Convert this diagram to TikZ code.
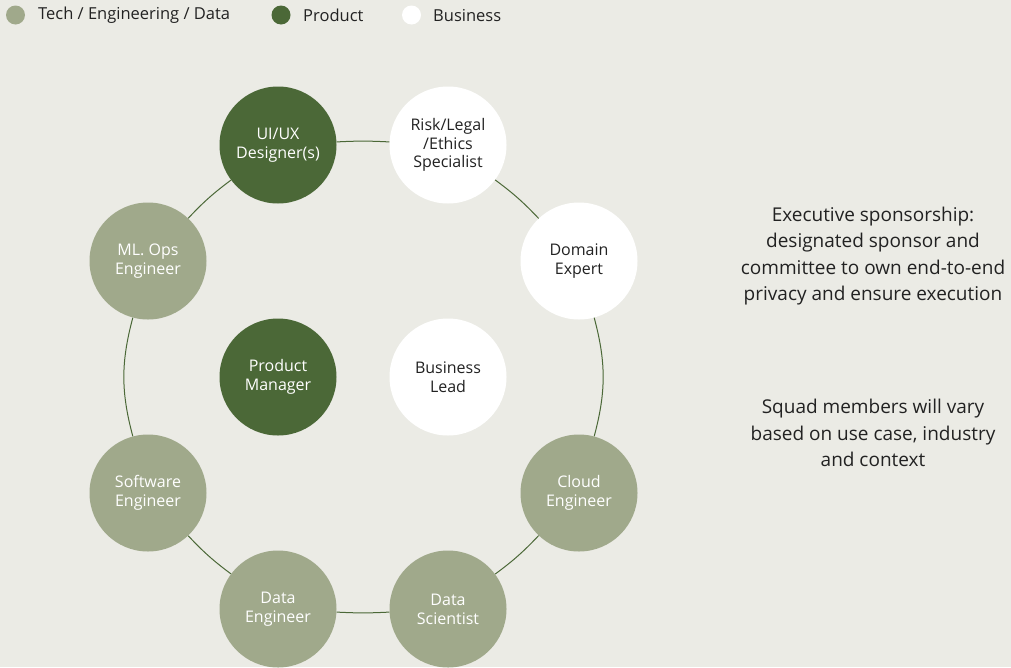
\documentclass[tikz,border=0pt]{standalone}
\usepackage{fontspec}
\setmainfont{Open Sans}
\definecolor{bg}{HTML}{EBEBE5}
\definecolor{tech}{HTML}{A0A98B}
\definecolor{prod}{HTML}{4B6837}
\definecolor{txt}{HTML}{222222}
\begin{document}
\begin{tikzpicture}[x=1pt,y=-1pt,
  member/.style={circle,minimum size=117pt,inner sep=0pt,align=center,
    font=\fontsize{16}{18.8}\selectfont},
  techc/.style={member,fill=tech,text=white},
  prodc/.style={member,fill=prod,text=white},
  busc/.style={member,fill=white,text=txt},
  ring/.style={draw=prod,line width=1pt},
  dot/.style={circle,minimum size=19pt,inner sep=0pt},
  legtxt/.style={anchor=west,inner sep=0pt,text=txt,font=\fontsize{16.5}{18}\selectfont},
  note/.style={align=center,text=txt,font=\fontsize{19}{26.5}\selectfont}]
\fill[bg] (0,0) rectangle (1011,667);
\useasboundingbox (0,0) rectangle (1011,667);
% legend
\node[dot,fill=tech] (l1) at (15.5,15) {};
\node[legtxt] (t1) at (38,15.5) {Tech / Engineering / Data};
\node[dot,fill=prod] (l2) at (281,15) {};
\node[legtxt] (t2) at (303,15.5) {Product};
\node[dot,fill=white] (l3) at (411.5,15) {};
\node[legtxt] (t3) at (433,15.5) {Business};
% members
\node[prodc] (ui) at (278,145) {UI/UX\\Designer(s)};
\node[busc] (risk) at (448,145) {Risk/Legal\\/Ethics\\Specialist};
\node[busc] (dom) at (579,261) {Domain\\Expert};
\node[techc] (cloud) at (579,493) {Cloud\\Engineer};
\node[techc] (ds) at (448,609) {Data\\Scientist};
\node[techc] (de) at (278,609) {Data\\Engineer};
\node[techc] (se) at (148,493) {Software\\Engineer};
\node[techc] (ml) at (148,261) {ML. Ops\\Engineer};
\node[prodc] (pm) at (278,377) {Product\\Manager};
\node[busc] (bl) at (448,377) {Business\\Lead};
% ring
\draw[ring] (ui) to[bend left=3] (risk);
\draw[ring] (risk) to[bend left=5] (dom);
\draw[ring] (dom) to[bend left=15] (cloud);
\draw[ring] (cloud) to[bend left=5] (ds);
\draw[ring] (ds) to[bend left=3] (de);
\draw[ring] (de) to[bend left=5] (se);
\draw[ring] (se) to[bend left=15] (ml);
\draw[ring] (ml) to[bend left=5] (ui);
% notes
\node[note] (n1) at (873,256) {Executive sponsorship:\\designated sponsor and\\committee to own end-to-end\\privacy and ensure execution};
\node[note] (n2) at (873,433) {Squad members will vary\\based on use case, industry\\and context};
\end{tikzpicture}
\end{document}
